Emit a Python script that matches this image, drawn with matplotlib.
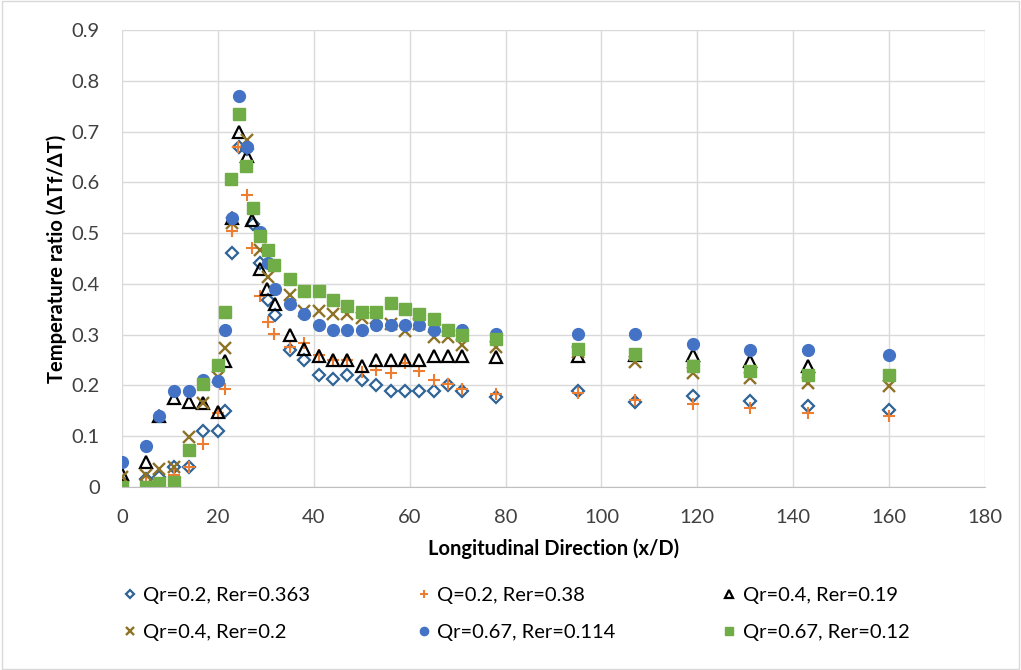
import matplotlib.pyplot as plt
from matplotlib.patches import Rectangle

plt.rcParams["font.family"] = ["Lato", "DejaVu Sans"]

# series: (x, y)
x_d = [0, 5, 7.8, 10.9, 13.9, 16.9, 20, 21.5, 23, 24.4, 26, 27.3, 28.8, 30.4, 31.9,
       35, 38, 41, 44, 47, 50, 53, 56, 59, 62, 65, 68, 71, 78, 95, 107, 119, 131, 143, 160]
y_d = [0.01, 0.015, 0.02, 0.04, 0.04, 0.11, 0.11, 0.15, 0.46, 0.67, 0.665, 0.518, 0.442, 0.368, 0.339,
       0.27, 0.25, 0.22, 0.212, 0.22, 0.21, 0.2, 0.19, 0.19, 0.19, 0.19, 0.2, 0.19, 0.178, 0.19, 0.168,
       0.179, 0.17, 0.159, 0.151]

x_p = [0, 5, 7.8, 10.9, 13.9, 16.9, 20, 21.5, 23, 24.2, 26, 27.1, 28.8, 30.4, 31.7,
       35, 38, 41, 44, 47, 50, 53, 56, 59, 62, 65, 68, 71, 78, 95, 107, 119, 131, 143, 160]
y_p = [0.005, 0.01, 0.003, 0.023, 0.04, 0.084, 0.145, 0.194, 0.505, 0.67, 0.575, 0.47, 0.376, 0.325, 0.301,
       0.276, 0.283, 0.26, 0.25, 0.25, 0.227, 0.23, 0.224, 0.245, 0.228, 0.21, 0.203, 0.194, 0.184, 0.186,
       0.172, 0.164, 0.155, 0.145, 0.139]

x_t = [0, 5, 7.8, 10.9, 13.9, 16.9, 20, 21.5, 23, 24.4, 26, 27.1, 28.7, 30.2, 31.9,
       35, 38, 41, 44, 47, 50, 53, 56, 59, 62, 65, 68, 71, 78, 95, 107, 119, 131, 143]
y_t = [0.026, 0.049, 0.139, 0.176, 0.168, 0.166, 0.148, 0.249, 0.53, 0.70, 0.651, 0.526, 0.429, 0.389, 0.36,
       0.299, 0.271, 0.258, 0.251, 0.25, 0.238, 0.25, 0.25, 0.25, 0.25, 0.258, 0.258, 0.258, 0.257, 0.258,
       0.26, 0.26, 0.249, 0.239]

x_x = [0, 5, 7.8, 10.9, 13.9, 16.9, 20, 21.5, 23, 26, 28.7, 30.5,
       35, 38, 41, 44, 47, 50, 53, 56, 59, 62, 65, 68, 71, 78, 95, 107, 119, 131, 143, 160]
y_x = [0.019, 0.023, 0.036, 0.04, 0.099, 0.166, 0.216, 0.274, 0.52, 0.684, 0.467, 0.414,
       0.378, 0.346, 0.347, 0.341, 0.341, 0.332, 0.332, 0.321, 0.308, 0.322, 0.296, 0.296, 0.28, 0.276,
       0.265, 0.247, 0.225, 0.214, 0.205, 0.199]

x_c = [0, 5, 7.8, 10.9, 13.9, 16.9, 20, 21.5, 23, 24.4, 26, 28.8, 30.5, 31.9,
       35, 38, 41, 44, 47, 50, 53, 56, 59, 62, 65, 68, 71, 78, 95, 107, 119, 131, 143, 160]
y_c = [0.049, 0.08, 0.139, 0.19, 0.19, 0.21, 0.209, 0.31, 0.53, 0.771, 0.67, 0.503, 0.442, 0.389,
       0.36, 0.34, 0.319, 0.31, 0.31, 0.31, 0.319, 0.319, 0.319, 0.32, 0.309, 0.31, 0.31, 0.302, 0.301,
       0.301, 0.281, 0.27, 0.27, 0.26]

x_s = [0, 5, 7.8, 10.9, 13.9, 16.9, 20, 21.5, 22.8, 24.4, 25.9, 27.3, 28.8, 30.5, 31.7,
       35, 38, 41, 44, 47, 50, 53, 56, 59, 62, 65, 68, 71, 78, 95, 107, 119, 131, 143, 160]
y_s = [0.0, 0.0, 0.008, 0.01, 0.072, 0.203, 0.24, 0.345, 0.607, 0.735, 0.632, 0.55, 0.495, 0.467, 0.437,
       0.409, 0.386, 0.386, 0.368, 0.357, 0.345, 0.345, 0.362, 0.35, 0.34, 0.33, 0.309, 0.3, 0.291, 0.271,
       0.261, 0.239, 0.228, 0.22, 0.22]

labels = ["Qr=0.2, Rer=0.363", "Q=0.2, Rer=0.38", "Qr=0.4, Rer=0.19",
          "Qr=0.4, Rer=0.2", "Qr=0.67, Rer=0.114", "Qr=0.67, Rer=0.12"]

FS = 14.5

fig = plt.figure(figsize=(10.21, 6.70), dpi=100)
ax = fig.add_axes([0.1195, 0.2731, 0.8453, 0.6821])

ms = 8
h = []
h += ax.plot(x_d, y_d, ls="none", marker="D", ms=6.5, mfc="white", mec="#2E6496", mew=1.6, label=labels[0])
h += ax.plot(x_p, y_p, ls="none", marker="+", ms=9, mec="#ED7D31", mew=1.5, label=labels[1])
h += ax.plot(x_t, y_t, ls="none", marker="^", ms=ms, mfc="none", mec="black", mew=1.6, label=labels[2])
h += ax.plot(x_x, y_x, ls="none", marker="x", ms=ms, mec="#8E7226", mew=1.7, label=labels[3])
h += ax.plot(x_c, y_c, ls="none", marker="o", ms=ms + 0.5, mfc="#4472C4", mec="#4472C4", label=labels[4])
h += ax.plot(x_s, y_s, ls="none", marker="s", ms=ms, mfc="#70AD47", mec="#70AD47", label=labels[5])

ax.set_xlim(0, 180)
ax.set_ylim(0, 0.9)
ax.set_xticks(range(0, 181, 20))
ax.set_yticks([i / 10 for i in range(10)])
ax.set_yticklabels(["0"] + [f"{i / 10:.1f}" for i in range(1, 10)])
ax.grid(True, color="#D9D9D9", lw=1)
ax.set_axisbelow(True)
for s in ["top", "right", "left"]:
    ax.spines[s].set_visible(False)
ax.spines["bottom"].set_color("#BFBFBF")
ax.tick_params(length=0, labelsize=FS, colors="#404040")
ax.tick_params(axis="y", pad=16)
ax.tick_params(axis="x", pad=16)
ax.set_xlabel("Longitudinal Direction (x/D)", fontsize=FS, fontweight="bold", labelpad=9)
ax.set_ylabel("Temperature ratio (ΔTf/ΔT)", fontsize=FS, fontweight="bold", labelpad=3)

# row-wise legend order (matplotlib fills columns first)
order = [0, 3, 1, 4, 2, 5]
fig.legend([h[i] for i in order], [labels[i] for i in order],
           loc="center left", bbox_to_anchor=(0.103, 0.084), ncol=3, frameon=False,
           fontsize=FS, handlelength=0.7, handletextpad=0.3, columnspacing=5.3,
           labelspacing=1.0, markerscale=0.7)

fig.add_artist(Rectangle((0.002, 0.002), 0.996, 0.996, transform=fig.transFigure,
                         fill=False, edgecolor="#D9D9D9", lw=1))
fig.savefig("out.png", dpi=100)
